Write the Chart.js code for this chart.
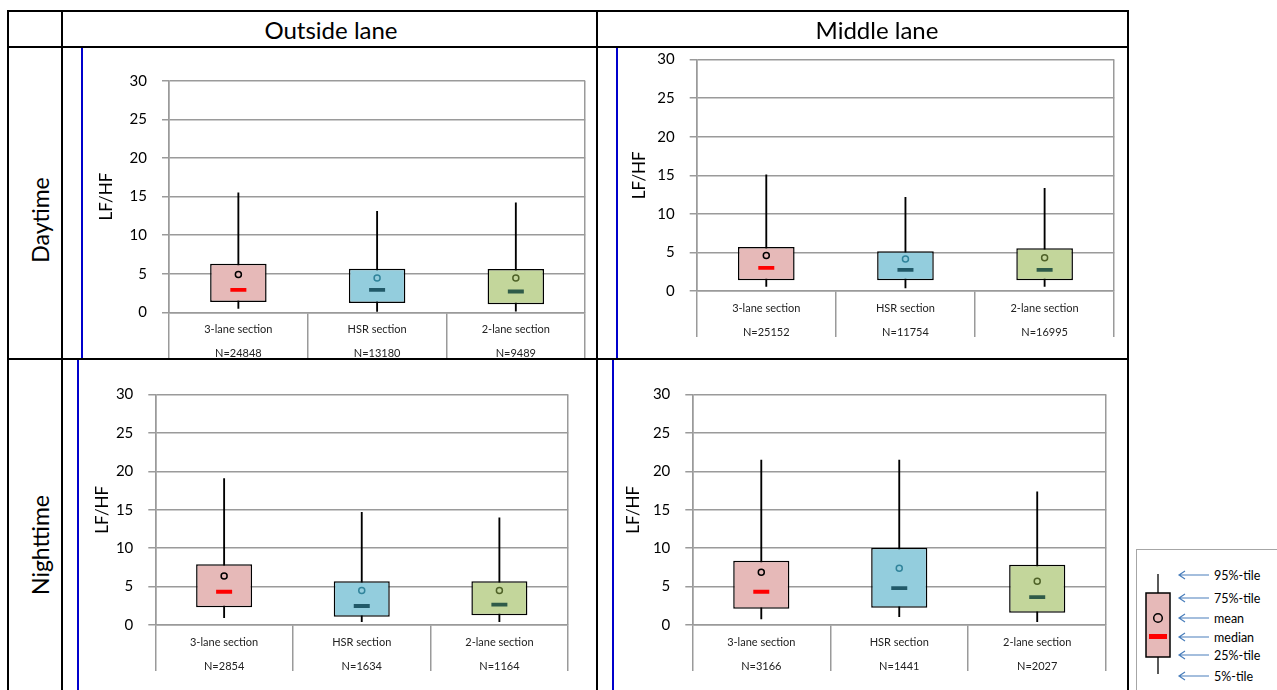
<!DOCTYPE html>
<html>
<head>
<meta charset="utf-8">
<title>LF/HF by lane and section</title>
<script src="https://cdn.jsdelivr.net/npm/chart.js@4.4.1/dist/chart.umd.min.js"></script>
<style>
  html, body { margin: 0; padding: 0; background: #fff; }
  #sheet { position: relative; width: 1277px; height: 690px; overflow: hidden; background: #fff;
           font-family: Lato, "Noto Sans", sans-serif; color: #000; }
  .rule { position: absolute; background: #000; z-index: 5; }
  .blue { position: absolute; background: #0000cc; z-index: 5; width: 2px; }
  canvas { position: absolute; z-index: 1; }
  .hdr { position: absolute; font-size: 24px; white-space: nowrap; transform: translate(-50%, -50%); z-index: 6; }
  .side { position: absolute; font-size: 23px; white-space: nowrap; transform: translate(-50%, -50%) rotate(-90deg); z-index: 6; }
  #key { position: absolute; left: 1136px; top: 549px; width: 160px; height: 160px; border-left: 1px solid #a6a6a6; border-top: 1px solid #a6a6a6; z-index: 2; }
  #key svg { position: absolute; left: 0; top: 0; }
</style>
</head>
<body>
<div id="sheet">
  <!-- table frame -->
  <div class="rule" style="left:7px;top:10px;width:1122px;height:2px"></div>
  <div class="rule" style="left:7px;top:46px;width:1122px;height:2px"></div>
  <div class="rule" style="left:7px;top:358px;width:1122px;height:2px"></div>
  <div class="rule" style="left:7px;top:10px;width:2px;height:690px"></div>
  <div class="rule" style="left:61px;top:10px;width:2px;height:690px"></div>
  <div class="rule" style="left:596px;top:10px;width:2px;height:690px"></div>
  <div class="rule" style="left:1127px;top:10px;width:2px;height:690px"></div>
  <div class="blue" style="left:81px;top:48px;height:310px"></div>
  <div class="blue" style="left:616px;top:48px;height:310px"></div>
  <div class="blue" style="left:77px;top:360px;height:330px"></div>
  <div class="blue" style="left:612px;top:360px;height:330px"></div>

  <div class="hdr" style="left:331px;top:29px">Outside lane</div>
  <div class="hdr" style="left:877px;top:29px">Middle lane</div>
  <div class="side" style="left:40px;top:220px">Daytime</div>
  <div class="side" style="left:40px;top:545px">Nighttime</div>

  <!-- box-plot key -->
  <div id="key">
    <svg width="141" height="141" xmlns="http://www.w3.org/2000/svg" font-family="Lato, 'Noto Sans', sans-serif" font-size="12.5">
      <line x1="21" y1="24" x2="21" y2="124" stroke="#000" stroke-width="1.3"/>
      <rect x="9" y="43" width="24" height="64" fill="#E6B9B8" stroke="#000" stroke-width="1.5"/>
      <circle cx="21" cy="68" r="4.3" fill="none" stroke="#000" stroke-width="1.5"/>
      <rect x="12" y="84" width="18" height="5" fill="#FF0000"/>
      <g stroke="#4A7EBB" stroke-width="1.2" fill="none">
        <path d="M72 25 H42 M48 21 L42 25 L48 29"/>
        <path d="M72 48 H42 M48 44 L42 48 L48 52"/>
        <path d="M72 68 H42 M48 64 L42 68 L48 72"/>
        <path d="M72 87 H42 M48 83 L42 87 L48 91"/>
        <path d="M72 105 H42 M48 101 L42 105 L48 109"/>
        <path d="M72 126 H42 M48 122 L42 126 L48 130"/>
      </g>
      <g fill="#000" dominant-baseline="central">
        <text x="77" y="25">95%-tile</text>
        <text x="77" y="48">75%-tile</text>
        <text x="77" y="68">mean</text>
        <text x="77" y="87">median</text>
        <text x="77" y="105">25%-tile</text>
        <text x="77" y="126">5%-tile</text>
      </g>
    </svg>
  </div>
</div>

<script>
// Road sections compared in every panel
const categories = ['3-lane section', 'HSR section', '2-lane section'];
// LF/HF axis ticks
const yTicks = [0, 5, 10, 15, 20, 25, 30];

// Outside lane, daytime
const outsideDayN      = [24848, 13180, 9489];
const outsideDayP5     = [0.5, 0.1, 0.15];
const outsideDayQ1     = [1.35, 1.2, 1.05];
const outsideDayMedian = [2.9, 2.9, 2.7];
const outsideDayMean   = [4.9, 4.45, 4.45];
const outsideDayQ3     = [6.3, 5.65, 5.6];
const outsideDayP95    = [15.5, 13.1, 14.2];

// Middle lane, daytime
const middleDayN      = [25152, 11754, 16995];
const middleDayP5     = [0.6, 0.4, 0.6];
const middleDayQ1     = [1.4, 1.4, 1.4];
const middleDayMedian = [3.0, 2.75, 2.75];
const middleDayMean   = [4.6, 4.15, 4.3];
const middleDayQ3     = [5.7, 5.15, 5.55];
const middleDayP95    = [15.05, 12.15, 13.3];

// Outside lane, nighttime
const outsideNightN      = [2854, 1634, 1164];
const outsideNightP5     = [0.95, 0.43, 0.43];
const outsideNightQ1     = [2.3, 1.08, 1.26];
const outsideNightMedian = [4.33, 2.47, 2.64];
const outsideNightMean   = [6.37, 4.5, 4.5];
const outsideNightQ3     = [7.9, 5.68, 5.68];
const outsideNightP95    = [19.07, 14.65, 13.96];

// Middle lane, nighttime
const middleNightN      = [3166, 1441, 2027];
const middleNightP5     = [0.78, 1.08, 0.43];
const middleNightQ1     = [2.12, 2.25, 1.6];
const middleNightMedian = [4.33, 4.81, 3.64];
const middleNightMean   = [6.85, 7.37, 5.68];
const middleNightQ3     = [8.37, 10.06, 7.85];
const middleNightP95    = [21.46, 21.46, 17.34];

// Styling
const FONT = 'Lato, "Noto Sans", sans-serif';
const gridGray = '#9a9a9a';
const boxFill = ['#E6B9B8', '#93CDDD', '#C3D69B'];
const medianColor = ['#FF0000', '#215968', '#2F5B49'];
const meanColor = ['#000000', '#31849B', '#4F6228'];

// Panel placement on the sheet: plot-area edges and axis-title centre (px)
const panels = [
  { n: outsideDayN, p5: outsideDayP5, q1: outsideDayQ1, med: outsideDayMedian, mean: outsideDayMean, q3: outsideDayQ3, p95: outsideDayP95,
    plot: { l: 169, t: 81, r: 587, b: 312.3 }, titleX: 106.5 },
  { n: middleDayN, p5: middleDayP5, q1: middleDayQ1, med: middleDayMedian, mean: middleDayMean, q3: middleDayQ3, p95: middleDayP95,
    plot: { l: 696.7, t: 59.5, r: 1115.7, b: 291 }, titleX: 640 },
  { n: outsideNightN, p5: outsideNightP5, q1: outsideNightQ1, med: outsideNightMedian, mean: outsideNightMean, q3: outsideNightQ3, p95: outsideNightP95,
    plot: { l: 155.3, t: 394.5, r: 570, b: 625 }, titleX: 103 },
  { n: middleNightN, p5: middleNightP5, q1: middleNightQ1, med: middleNightMedian, mean: middleNightMean, q3: middleNightQ3, p95: middleNightP95,
    plot: { l: 692.3, t: 394.5, r: 1108.3, b: 625 }, titleX: 634.4 }
];

const sheet = document.getElementById('sheet');

function drawPanel(p) {
  const titleLH = 20;     // y-axis title line height
  const axisH = 50;       // x-axis band height below the plot
  const topRoom = 32;     // room above the plot for the top tick label
  const cx = Math.round(p.titleX - titleLH / 2);
  const cy = Math.round(p.plot.t - topRoom);
  const cw = Math.round(p.plot.r + 10 - cx);
  const ch = Math.round(p.plot.b + axisH - cy);
  const axisW = p.plot.l - cx;

  const canvas = document.createElement('canvas');
  canvas.width = cw; canvas.height = ch;
  canvas.style.left = cx + 'px'; canvas.style.top = cy + 'px';
  canvas.style.width = cw + 'px'; canvas.style.height = ch + 'px';
  sheet.appendChild(canvas);

  const labels = categories.map((c, i) => [c, 'N=' + p.n[i]]);

  new Chart(canvas, {
    type: 'bar',
    data: {
      labels,
      datasets: [
        { type: 'bar', label: '5%-95%', data: p.p5.map((v, i) => [v, p.p95[i]]),
          backgroundColor: '#000', borderWidth: 0, barThickness: 1.2, grouped: false, order: 4 },
        { type: 'bar', label: '25%-75%', data: p.q1.map((v, i) => [v, p.q3[i]]),
          backgroundColor: boxFill, borderColor: '#000', borderWidth: 1.5, borderSkipped: false,
          grouped: false, barPercentage: 0.407, categoryPercentage: 1, order: 3 },
        { type: 'line', label: 'median', data: p.med, showLine: false, pointStyle: 'line',
          pointRadius: 8, pointBorderWidth: 3.8, pointBorderColor: medianColor, order: 2 },
        { type: 'line', label: 'mean', data: p.mean, showLine: false, pointStyle: 'circle',
          pointRadius: 3, pointBorderWidth: 1.5, pointBorderColor: meanColor,
          pointBackgroundColor: 'rgba(0,0,0,0)', order: 1 }
      ]
    },
    options: {
      responsive: false,
      animation: false,
      events: [],
      layout: { padding: { left: 0, top: p.plot.t - cy, right: cx + cw - p.plot.r, bottom: cy + ch - p.plot.b - axisH } },
      plugins: { legend: { display: false }, tooltip: { enabled: false } },
      scales: {
        x: {
          grid: {
            offset: true,
            drawOnChartArea: true,
            // only the outer frame edges inside the plot; all dividers below the axis
            color: c => (c.type === 'tick' && c.index > 0) ? 'rgba(0,0,0,0)' : gridGray,
            tickColor: gridGray,
            lineWidth: 1.5,
            tickLength: 46
          },
          border: { color: gridGray, width: 1.5 },
          ticks: { color: '#222', font: { family: FONT, size: 11, lineHeight: '24px' },
                   padding: -40.5, maxRotation: 0, autoSkip: false },
          afterFit: s => { s.height = axisH; }
        },
        y: {
          min: yTicks[0],
          max: yTicks[yTicks.length - 1],
          ticks: { stepSize: yTicks[1] - yTicks[0], color: '#000', font: { family: FONT, size: 15 }, padding: 15 },
          grid: { color: gridGray, lineWidth: 1.5, tickLength: 7 },
          border: { color: gridGray, width: 1.5 },
          title: { display: true, text: 'LF/HF', color: '#000', font: { family: FONT, size: 17, lineHeight: 20 / 17 }, padding: 0 },
          afterFit: s => { s.width = axisW; }
        }
      }
    }
  });
}

panels.forEach(drawPanel);
</script>
</body>
</html>
